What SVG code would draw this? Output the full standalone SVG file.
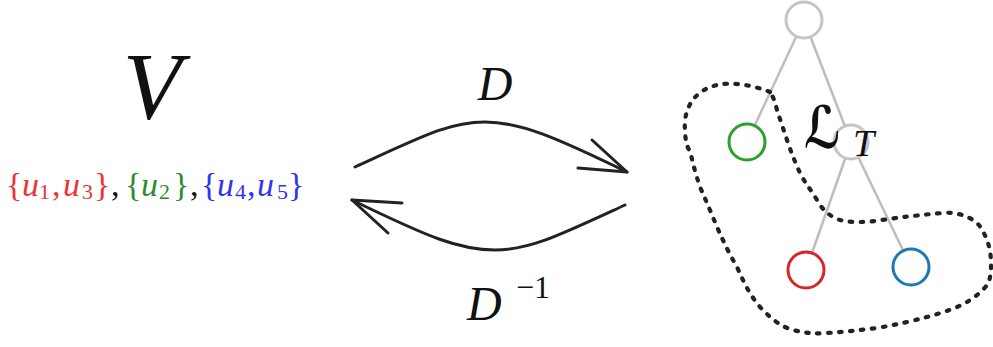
<svg xmlns="http://www.w3.org/2000/svg" width="993" height="347" viewBox="0 0 993 347">
<style>
.math{font-family:"Liberation Serif","DejaVu Serif",serif;font-style:italic;fill:#111}
.rm{font-family:"Liberation Serif","DejaVu Serif",serif;font-style:normal}
.set{font-family:"Liberation Serif","DejaVu Serif",serif;font-size:34px}
.sub{font-size:22px;font-style:normal}
.arr{fill:none;stroke:#222;stroke-width:3;stroke-linecap:round;stroke-linejoin:round}
.edge{stroke:#bdbdbd;stroke-width:2.5}
.node{fill:#fff;stroke-width:3}
.red{fill:#ee3333}.green{fill:#2e8b2e}.blue{fill:#3333ee}
</style>
<rect width="993" height="347" fill="#fff"/>
<g id="V">
<text class="math" x="152" y="119" font-size="96" text-anchor="middle">V</text>
</g>
<g id="partition">
<text class="set" y="196">
<tspan class="red rm" x="6">{</tspan><tspan class="red" font-style="italic" x="22">u</tspan><tspan class="red sub" x="39" dy="3">1</tspan><tspan class="red rm" x="52" dy="-3">,</tspan><tspan class="red" font-style="italic" x="63">u</tspan><tspan class="red sub" x="82" dy="3">3</tspan><tspan class="red rm" x="94" dy="-3">}</tspan><tspan fill="#111" x="111">,</tspan><tspan class="green rm" x="125">{</tspan><tspan class="green" font-style="italic" x="141">u</tspan><tspan class="green sub" x="159" dy="3">2</tspan><tspan class="green rm" x="173" dy="-3">}</tspan><tspan fill="#111" x="190">,</tspan><tspan class="blue rm" x="201">{</tspan><tspan class="blue" font-style="italic" x="217">u</tspan><tspan class="blue sub" x="235" dy="3">4</tspan><tspan class="blue rm" x="247" dy="-3">,</tspan><tspan class="blue" font-style="italic" x="257">u</tspan><tspan class="blue sub" x="277" dy="3">5</tspan><tspan class="blue rm" x="288" dy="-3">}</tspan>
</text>
</g>
<g id="connectors">
<path class="arr" d="M355,167 C425,135 450,122 485,122 C520,122 555,137 627,172"/>
<path class="arr" d="M578,168 L627,172 L592,140"/>
<path class="arr" d="M625,205 C560,235 530,250 495,250 C460,250 430,238 352,200"/>
<path class="arr" d="M402,203 L352,200 L388,233"/>
<line class="edge" x1="804" y1="20" x2="747" y2="142"/>
<line class="edge" x1="804" y1="20" x2="851" y2="142"/>
<line class="edge" x1="851" y1="142" x2="806" y2="270"/>
<line class="edge" x1="851" y1="142" x2="911" y2="267"/>
</g>
<g id="label-D">
<text class="math" x="495" y="100" font-size="48" text-anchor="middle">D</text>
</g>
<g id="label-Dinv">
<text class="math" x="467" y="320" font-size="48">D</text>
<text class="rm" x="516" y="298" font-size="32" fill="#111">−1</text>
</g>
<g id="node-root"><circle class="node" cx="804" cy="20" r="18" stroke="#c4c4c4"/></g>
<g id="node-green"><circle class="node" cx="747" cy="142" r="18" stroke="#2ca02c"/></g>
<g id="node-mid"><circle class="node" cx="851" cy="142" r="17" stroke="#c4c4c4"/></g>
<g id="node-red"><circle class="node" cx="806" cy="270" r="18" stroke="#d62728"/></g>
<g id="node-blue"><circle class="node" cx="911" cy="267" r="18" stroke="#1f77b4"/></g>
<g id="region">
<path d="M770,92 C750,84 730,82 717,85 C700,89 688,100 685,120 C684,135 687,150 690,150 C694,170 700,187 700,187 C708,205 712,215 717,227 C725,245 730,255 737,267 C745,285 750,295 760,307 C772,320 782,327 793,330 C805,333 815,334 827,333 C845,332 860,330 877,328 C895,325 912,321 927,317 C945,312 960,307 970,300 C982,292 989,285 990,277 C992,265 991,252 988,243 C984,232 980,224 973,220 C963,214 953,212 943,213 C928,214 915,216 903,217 C888,219 872,222 860,222 C848,222 840,221 833,217 C825,212 821,207 817,200 C811,190 805,183 800,173 C795,162 791,152 787,140 C783,128 780,119 777,110 C775,102 773,96 770,92 Z" fill="none" stroke="#222" stroke-width="4.2" stroke-linecap="round" stroke-dasharray="2.5 8.5"/>
</g>
<g id="label-LT">
<text transform="translate(804,148) scale(0.7,0.95)" font-family="DejaVu Sans,serif" font-weight="bold" font-style="italic" font-size="62" fill="#111">ℒ</text>
<text class="math" x="853" y="156" font-size="38">T</text>
</g>
</svg>
